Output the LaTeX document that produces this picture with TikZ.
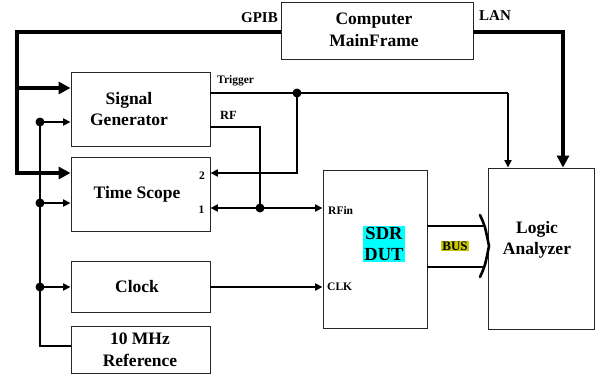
\documentclass[tikz,border=0pt]{standalone}
\usepackage{fontspec}
\setmainfont{Liberation Serif}
\usetikzlibrary{arrows.meta}
\definecolor{dutcyan}{RGB}{0,255,255}
\definecolor{busolive}{RGB}{200,200,0}
\begin{document}
\begin{tikzpicture}[x=1pt,y=-1pt,
  box/.style={draw=black!85,line width=0.9pt,minimum width=139pt,inner sep=0pt,fill=white},
  lbl/.style={font=\bfseries\fontsize{17.5}{21.5}\selectfont,align=center,inner sep=0pt},
  small/.style={font=\bfseries\fontsize{11.5}{13}\selectfont,inner sep=0pt},
  mid/.style={font=\bfseries\fontsize{15}{17}\selectfont,inner sep=0pt},
  thk/.style={line width=4.2pt},
  thkarrow/.style={line width=4.2pt,-{Triangle[length=12pt,width=12pt]}},
  wire/.style={line width=2.6pt},
  warrow/.style={line width=2.6pt,-{Triangle[length=7.5pt,width=7pt]}},
  dot/.style={circle,fill=black,inner sep=0pt,minimum size=9pt}
]
\useasboundingbox (0,0) rectangle (597,375);
\fill[white] (0,0) rectangle (597,375);

% boxes
\node[box,minimum width=192pt,minimum height=57pt] (comp) at (377,30.5) {};
\node[box,minimum height=74pt] (sg) at (140.5,109) {};
\node[box,minimum height=74pt] (ts) at (140.5,194) {};
\node[box,minimum height=51pt] (clk) at (140.5,286.5) {};
\node[box,minimum height=47pt] (ref) at (140.5,349.5) {};
\node[box,minimum width=104pt,minimum height=158pt] (dut) at (375,249) {};
\node[box,minimum width=106pt,minimum height=161pt] (la) at (541,248.5) {};

% box texts
\node[lbl] (compt) at (374,30) {Computer\\MainFrame};
\node[lbl] (sgt) at (129,109) {Signal\\Generator};
\node[lbl] (tst) at (137,194) {Time Scope};
\node[lbl] (clkt) at (137,287) {Clock};
\node[lbl] (reft) at (140,350) {10 MHz\\Reference};
\node[lbl] (lat) at (537,240) {Logic\\Analyzer};
\node[lbl,font=\bfseries\fontsize{18.5}{21}\selectfont,fill=dutcyan,inner sep=1pt] (dutt) at (384,244) {SDR\\DUT};
\node[small,font=\bfseries\fontsize{13}{15}\selectfont,fill=busolive,inner sep=1pt] (bust) at (455,246) {BUS};

% labels
\node[mid,anchor=east] (gpib) at (278,18) {GPIB};
\node[mid,anchor=west] (lan) at (479,16) {LAN};
\node[small,anchor=west] (trig) at (217,81) {Trigger};
\node[small,font=\bfseries\fontsize{12.5}{14}\selectfont,anchor=west] (rf) at (220,115) {RF};
\node[small] (two) at (202,176) {2};
\node[small] (one) at (201.5,210) {1};
\node[small,anchor=west] (rfin) at (328,211) {RFin};
\node[small,anchor=west] (clkl) at (327,287) {CLK};

% coordinates
\coordinate (gl) at (17,32);
\coordinate (gb) at (17,175);
\coordinate (g1) at (17,88);
\coordinate (g2) at (17,173);
\coordinate (lanc) at (563,32);
\coordinate (tj) at (297,93);
\coordinate (tr) at (508,93);
\coordinate (tb) at (297,173);
\coordinate (rfc) at (260,127);
\coordinate (rfj) at (260,208);
\coordinate (v1) at (40,122);
\coordinate (v2) at (40,203);
\coordinate (v3) at (40,287);
\coordinate (v4) at (40,346);

% GPIB bus
\draw[thk,line join=miter] ([yshift=-1.5pt]comp.west) -- (gl) -- (gb);
\draw[thkarrow] (g1) -- (g1 -| sg.west);
\draw[thkarrow] (g2) -- (g2 -| ts.west);

% LAN
\draw[thkarrow,line join=miter] ([yshift=-1.5pt]comp.east) -- (lanc) -- (lanc |- la.north);

% Trigger
\draw[wire] (tj -| sg.east) -- (tr);
\draw[warrow] (tr) -- (tr |- la.north);
\draw[warrow] (tj) -- (tb) -- (tb -| ts.east);
\node[dot] (tjd) at (tj) {};

% RF
\draw[wire] (rfc -| sg.east) -- (rfc) -- (rfj);
\draw[wire,{Triangle[length=7.5pt,width=7pt]}-{Triangle[length=7.5pt,width=7pt]}] (rfj -| ts.east) -- (rfj -| dut.west);
\node[dot] (rfjd) at (rfj) {};

% Clock
\draw[warrow] (v3 -| clk.east) -- (v3 -| dut.west);

% 10 MHz reference distribution
\draw[line width=2.2pt] (v1) -- (v4) -- (v4 -| ref.west);
\draw[line width=2.2pt,-{Triangle[length=7.5pt,width=7pt]}] (v1) -- (v1 -| sg.west);
\draw[line width=2.2pt,-{Triangle[length=7.5pt,width=7pt]}] (v2) -- (v2 -| ts.west);
\draw[line width=2.2pt,-{Triangle[length=7.5pt,width=7pt]}] (v3) -- (v3 -| clk.west);
\node[dot] (d1) at (v1) {};
\node[dot] (d2) at (v2) {};
\node[dot] (d3) at (v3) {};

% BUS
\coordinate (b1) at (483,226);
\coordinate (b2) at (483,267);
\coordinate (bt) at (480,215);
\coordinate (bm) at (489,246);
\coordinate (bb) at (480,277);
\draw[wire] (b1 -| dut.east) -- (b1);
\draw[wire] (b2 -| dut.east) -- (b2);
\draw[wire,line cap=round] (bt) .. controls (485,226) .. (bm) .. controls (485,266) .. (bb);
\end{tikzpicture}
\end{document}
